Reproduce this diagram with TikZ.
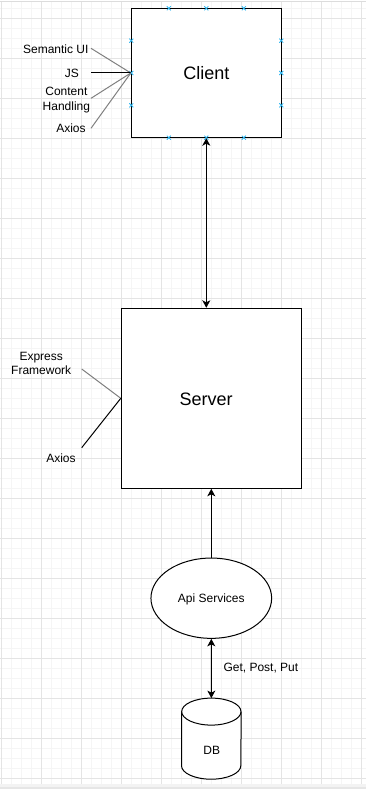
\documentclass[tikz,border=0pt]{standalone}
\usepackage{fontspec}
\setmainfont{Liberation Sans}
\usetikzlibrary{arrows.meta,calc,shapes.geometric}
\definecolor{gridmajor}{HTML}{E4E4E4}
\definecolor{gridminor}{HTML}{F5F5F5}
\definecolor{frameline}{HTML}{DCDCDC}
\definecolor{pointblue}{HTML}{29B6F2}
\definecolor{linegray}{HTML}{808080}
\definecolor{bargray}{HTML}{E6E6E6}
\definecolor{barlight}{HTML}{F3F3F3}
\begin{document}
\begin{tikzpicture}[x=1pt,y=-1pt,
  >={Stealth[length=7.5pt,width=8pt,inset=2pt]},
  box/.style={draw=black, fill=white, line width=1pt, inner sep=0pt},
  lbl/.style={font=\fontsize{12}{14}\selectfont, inner sep=0pt, align=center},
  big/.style={font=\fontsize{18}{21}\selectfont},
  link/.style={draw=black, line width=1pt},
  gline/.style={draw=linegray, line width=1pt},
  dline/.style={draw=black, line width=1pt},
  cpoint/.style={draw=pointblue, line width=0.8pt},
  ]
% canvas and background grid
\useasboundingbox (0,0) rectangle (366,789);
\fill[white] (0,0) rectangle (366,789);
\foreach \k in {0,...,36} \draw[gridminor, line width=0.8pt] (1.7+10*\k,1.3) -- (1.7+10*\k,784);
\foreach \k in {0,...,77} \draw[gridminor, line width=0.8pt] (0,8+10*\k) -- (366,8+10*\k);
\foreach \k in {0,...,9} \draw[gridmajor, line width=0.8pt] (1.7+40*\k,1.3) -- (1.7+40*\k,784);
\foreach \k in {0,...,19} \draw[gridmajor, line width=0.8pt] (0,18+40*\k) -- (366,18+40*\k);
\draw[frameline, line width=0.8pt] (0,1.3) -- (366,1.3);
\fill[barlight] (0,784) rectangle (366,789);
\fill[bargray] (0,786.5) rectangle (366,789);

% client
\node[box, big, minimum width=150, minimum height=129.4] (client) at (206.3,73) {Client};
\foreach \px/\py in {168.8/8.3, 206.3/8.3, 243.8/8.3, 168.8/137.7, 206.3/137.7, 243.8/137.7,
                     131.3/40.65, 131.3/73, 131.3/105.35, 281.3/40.65, 281.3/73, 281.3/105.35}
  \draw[cpoint] (\px-2,\py-2) -- (\px+2,\py+2) (\px-2,\py+2) -- (\px+2,\py-2);

% client technologies (multi-line labels are placed by their last baseline)
\node[lbl, anchor=base] (sem) at (55.8,53.3) {Semantic UI};
\node[lbl, anchor=base] (js) at (72,77.3) {JS};
\node[lbl, font=\fontsize{12}{14.6}\selectfont, anchor=base] (content) at (66.4,110.3) {Content\\Handling};
\node[lbl, anchor=base] (caxios) at (71,132.3) {Axios};
\coordinate (semEnd) at (91,48.3);
\coordinate (jsEnd) at (91,73);
\coordinate (contentEnd) at (91,98.3);
\coordinate (caxiosEnd) at (91,128.3);
\draw[gline] (semEnd) -- (client.west);
\draw[dline] (jsEnd) -- (client.west);
\draw[gline] (contentEnd) -- (client.west);
\draw[gline] (caxiosEnd) -- (client.west);

% server
\node[box, minimum width=180.4, minimum height=180] (server) at (211.5,398.3) {};
\node[big, inner sep=0pt, anchor=base] (serverlbl) at (206.2,405) {Server};
\node[lbl, font=\fontsize{12}{13.4}\selectfont, anchor=base] (express) at (41.2,374.3) {Express\\Framework};
\node[lbl, anchor=base] (saxios) at (61,462.7) {Axios};
\coordinate (expressEnd) at (81.7,369);
\coordinate (saxiosEnd) at (81.7,447.7);
\draw[gline] (expressEnd) -- (server.west);
\draw[dline] (saxiosEnd) -- (server.west);

% api services
\node[box, ellipse, lbl, minimum width=120.7, minimum height=80.3, text depth=0pt] (api) at (211.3,598.2) {Api Services};

% database cylinder
\node[inner sep=0pt, minimum width=59.3, minimum height=80.7] (db) at (211.35,738.65) {};
\filldraw[fill=white, draw=black, line width=1pt]
  ($(db.north west)+(0,13.5)$) -- ($(db.south west)+(0,-13.5)$)
  arc[start angle=180, end angle=360, x radius=29.65pt, y radius=13.5pt]
  -- ($(db.north east)+(0,13.5)$);
\filldraw[fill=white, draw=black, line width=1pt]
  ($(db.north)+(0,13.5)$) ellipse [x radius=29.65pt, y radius=13.5pt];
\node[lbl, anchor=base] (dblabel) at (211.8,754.7) {DB};

% connectors
\draw[link, <->] (client.south) -- (client.south |- server.north);
\draw[link, ->] (api.north) -- (api.north |- server.south);
\draw[link, <->] (api.south) -- (db.north);
\node[lbl, anchor=base west] (crud) at (223.3,671.7) {Get, Post, Put};
\end{tikzpicture}
\end{document}
